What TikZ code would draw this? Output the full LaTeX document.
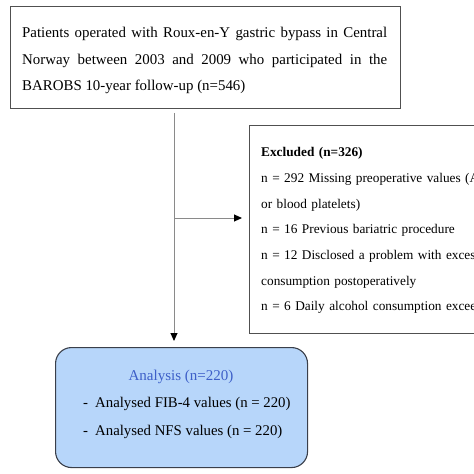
\documentclass[tikz,border=0pt]{standalone}
\usepackage{fontspec}
\setmainfont{Liberation Serif}
\usetikzlibrary{arrows.meta,calc}
\definecolor{boxline}{HTML}{505050}
\definecolor{connline}{HTML}{8A8A8A}
\definecolor{anfill}{HTML}{B7D6FA}
\definecolor{anline}{HTML}{3A3F4A}
\definecolor{antitle}{HTML}{3D5FC8}
\tikzset{
  plainbox/.style={draw=boxline, line width=1.1pt, fill=white, inner sep=0pt, anchor=north west},
  anbox/.style={draw=anline, line width=1.1pt, fill=anfill, rounded corners=16pt, inner sep=0pt, anchor=north west},
  txt/.style={inner sep=0pt, anchor=base west},
  conn/.style={draw=connline, line width=1pt, -{Triangle[length=8pt,width=7pt,color=black]}},
}
\begin{document}
\begin{tikzpicture}[x=1pt,y=-1pt]
\useasboundingbox (0,0) rectangle (474,474);
\clip (0,0) rectangle (474,474);
% boxes
\node[plainbox, minimum width=390pt, minimum height=102.6pt] (topbox) at (10,5.7) {};
\node[plainbox, minimum width=250pt, minimum height=207.7pt] (excl) at (249,125.3) {};
\node[anbox, minimum width=252pt, minimum height=120pt] (analysis) at (55,347) {};
% top text
\node[txt, text width=365pt, align=justify, font=\fontsize{14.9}{26.7}\selectfont] (toptext) at (22,37.3)
  {Patients operated with Roux-en-Y gastric bypass in Central\linebreak Norway between 2003 and 2009 who participated in the\linebreak BAROBS 10-year follow-up (n=546)};
% excluded text
\node[txt, text width=300pt, align=left, font=\fontsize{13.3}{25.67}\selectfont] (excltext) at (261,156.7)
  {\textbf{Excluded (n=326)}\\
   n = 292 Missing preoperative values (AS\\
   or blood platelets)\\
   n = 16 Previous bariatric procedure\\
   n = 12 Disclosed a problem with excessi\\
   consumption postoperatively\\
   n = 6 Daily alcohol consumption exceed};
% analysis text
\node[inner sep=0pt, anchor=base, text=antitle, font=\fontsize{15}{18}\selectfont] (antitle) at (181,380) {Analysis (n=220)};
\node[txt, font=\fontsize{14.8}{18}\selectfont] (anfib) at (83,407) {\makebox[12pt][l]{-}Analysed FIB-4 values (n = 220)};
\node[txt, font=\fontsize{14.8}{18}\selectfont] (annfs) at (83,435) {\makebox[12pt][l]{-}Analysed NFS values (n = 220)};
% connectors
\coordinate (split) at (174,218);
\draw[conn, shorten <=3.5pt, shorten >=6pt] (topbox.south -| split) -- (split |- analysis.north);
\draw[conn, shorten >=7pt] (split) -- (split -| excl.west);
\end{tikzpicture}
\end{document}
